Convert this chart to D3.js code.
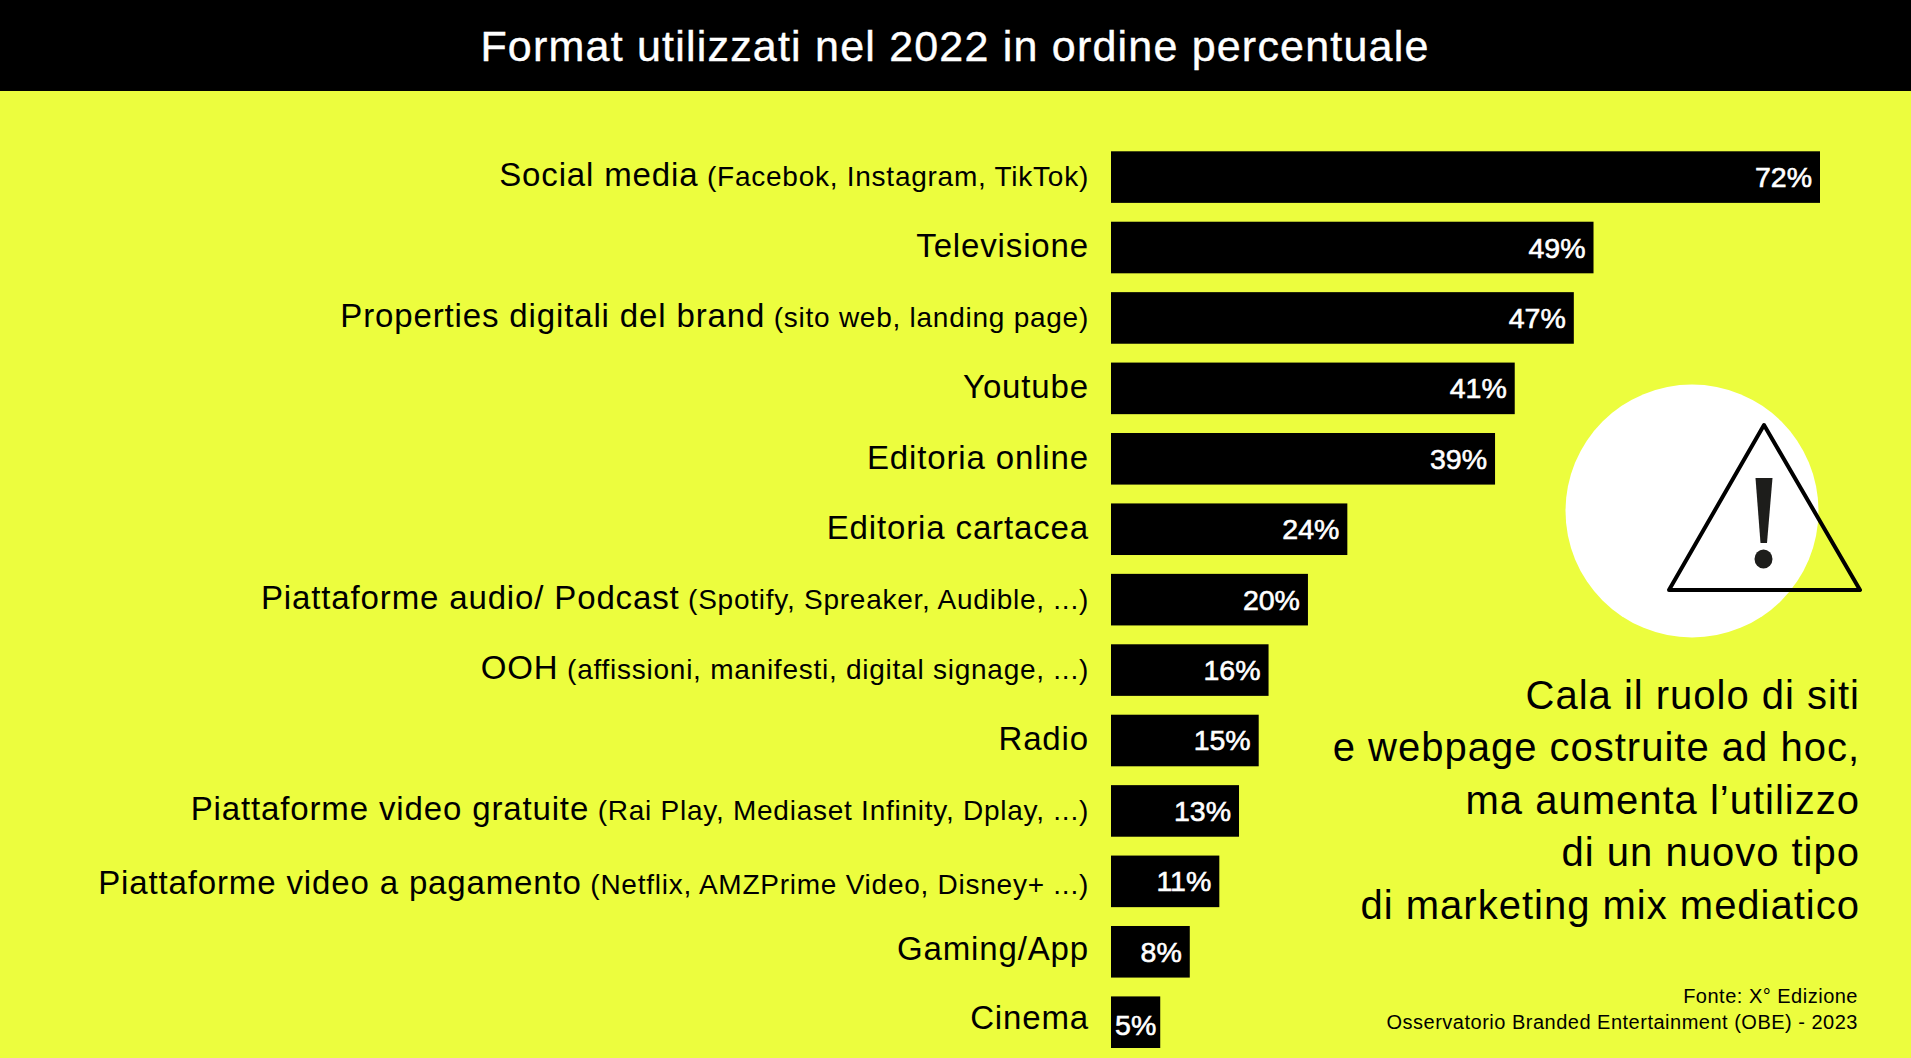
<!DOCTYPE html>
<html>
<head>
<meta charset="utf-8">
<script src="https://cdn.jsdelivr.net/npm/d3@7"></script>
<style>
  html, body { margin: 0; padding: 0; background: #ecfd3e; overflow: hidden; }
  text { font-family: "Liberation Sans", Arial, sans-serif; }
</style>
</head>
<body>
<div id="chart"></div>
<script>
var titleText = "Format utilizzati nel 2022 in ordine percentuale";
var categories = ["Social media", "Televisione", "Properties digitali del brand", "Youtube", "Editoria online", "Editoria cartacea", "Piattaforme audio/ Podcast", "OOH", "Radio", "Piattaforme video gratuite", "Piattaforme video a pagamento", "Gaming/App", "Cinema"];
var notes = ["(Facebok, Instagram, TikTok)", "", "(sito web, landing page)", "", "", "", "(Spotify, Spreaker, Audible, ...)", "(affissioni, manifesti, digital signage, ...)", "", "(Rai Play, Mediaset Infinity, Dplay, ...)", "(Netflix, AMZPrime Video, Disney+ ...)", "", ""];
var values = [72, 49, 47, 41, 39, 24, 20, 16, 15, 13, 11, 8, 5];
var calloutLines = ["Cala il ruolo di siti", "e webpage costruite ad hoc,", "ma aumenta l\u2019utilizzo", "di un nuovo tipo", "di marketing mix mediatico"];
var sourceLines = ["Fonte: X\u00b0 Edizione", "Osservatorio Branded Entertainment (OBE) - 2023"];

var width = 1911;
var height = 1058;
var x0 = 1111;

var svg = d3.select("#chart")
            .append("svg")
            .attr("width", width)
            .attr("height", height)
            .style("display", "block")
            .style("background-color", "#ecfd3e");

// header band
svg.append("rect")
   .attr("width", width)
   .attr("height", 91)
   .style("fill", "#000");

svg.append("text")
   .attr("x", 955)
   .attr("y", 61)
   .attr("text-anchor", "middle")
   .style("font-size", "43px")
   .style("letter-spacing", "1.2px")
   .style("fill", "#fff")
   .style("stroke", "#fff")
   .style("stroke-width", "0.4px")
   .text(titleText);

var x = d3.scaleLinear().domain([0, 72]).range([x0, 1820]);
var y = d3.scaleBand()
          .domain(categories)
          .range([151.3, 1048])
          .paddingInner(0.2676);

var row = svg.selectAll(".row")
             .data(categories)
             .enter()
             .append("g")
             .attr("class", "row")
             .attr("transform", function(d) {
                 return "translate(0," + y(d) + ")";
             });

row.append("rect")
   .attr("x", x0)
   .attr("width", function(d, i) { return x(values[i]) - x0; })
   .attr("height", y.bandwidth())
   .style("fill", "#000");

// the 5% label sits lower and tighter in its short bar
row.append("text")
   .attr("x", function(d, i) { return x(values[i]) - (values[i] < 8 ? 4 : 8); })
   .attr("y", function(d, i) { return y.bandwidth() / 2 + (values[i] < 8 ? 13 : 10); })
   .attr("text-anchor", "end")
   .style("font-size", "28.5px")
   .style("fill", "#fff")
   .style("stroke", "#fff")
   .style("stroke-width", "0.6px")
   .text(function(d, i) { return values[i] + "%"; });

// category label + smaller note in brackets, a few rows are not centred on the bar
var label = row.append("text")
   .attr("x", 1089)
   .attr("y", function(d) {
       var shift = 0;
       if (d == "Piattaforme video a pagamento") shift = 3.5;
       if (d == "Gaming/App") shift = -1;
       if (d == "Cinema") shift = -2;
       if (d == "Youtube" || d == "Editoria online" || d == "Editoria cartacea" || d == "Radio") shift = 1;
       return y.bandwidth() / 2 + 9 + shift;
   })
   .attr("text-anchor", "end")
   .style("fill", "#000");

label.append("tspan")
   .style("font-size", "33px")
   .style("letter-spacing", "0.86px")
   .text(function(d) { return d; });

label.append("tspan")
   .style("font-size", "28px")
   .style("letter-spacing", "0.75px")
   .text(function(d, i) { return notes[i] ? " " + notes[i] : ""; });

// warning sign
svg.append("circle")
   .attr("cx", 1692)
   .attr("cy", 511)
   .attr("r", 126.5)
   .style("fill", "#fff");

svg.append("path")
   .attr("d", "M1764,425 L1860,590 L1669,590 Z")
   .style("fill", "none")
   .style("stroke", "#000")
   .style("stroke-width", 4)
   .style("stroke-linejoin", "round");

svg.append("path")
   .attr("d", "M1755.5,478 L1772.5,478 L1767,543 L1760.5,543 Z")
   .style("fill", "#1d1d1b");

svg.append("ellipse")
   .attr("cx", 1763.5)
   .attr("cy", 559)
   .attr("rx", 9)
   .attr("ry", 9.5)
   .style("fill", "#1d1d1b");

svg.selectAll(".callout")
   .data(calloutLines)
   .enter()
   .append("text")
   .attr("class", "callout")
   .attr("x", 1860)
   .attr("y", function(d, i) { return 708.5 + i * 52.6; })
   .attr("text-anchor", "end")
   .style("font-size", "40px")
   .style("letter-spacing", "1px")
   .style("fill", "#000")
   .text(function(d) { return d; });

svg.selectAll(".source")
   .data(sourceLines)
   .enter()
   .append("text")
   .attr("class", "source")
   .attr("x", 1858)
   .attr("y", function(d, i) { return 1003 + i * 26; })
   .attr("text-anchor", "end")
   .style("font-size", "20px")
   .style("letter-spacing", "0.5px")
   .style("fill", "#000")
   .text(function(d) { return d; });
</script>
</body>
</html>
